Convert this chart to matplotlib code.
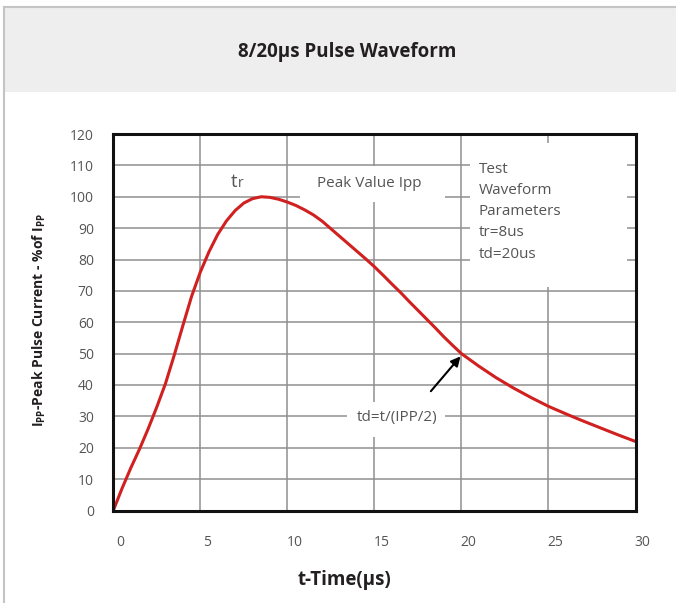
import matplotlib
matplotlib.use("Agg")
import matplotlib.pyplot as plt
import matplotlib.transforms as mtransforms
from matplotlib.patches import Rectangle

plt.rcParams['font.family'] = ['Open Sans', 'DejaVu Sans']
plt.rcParams['mathtext.fontset'] = 'custom'
plt.rcParams['mathtext.rm'] = 'Open Sans:bold'
plt.rcParams['mathtext.bf'] = 'Open Sans:bold'

# 8/20us waveform
time_us = [0, 0.5, 1, 1.5, 2, 2.5, 3, 3.5, 4, 4.5, 5, 5.5, 6, 6.5, 7, 7.5, 8, 8.5,
           9, 9.5, 10, 10.5, 11, 11.5, 12, 12.5, 13, 13.5, 14, 14.5, 15, 15.5, 16,
           16.5, 17, 17.5, 18, 18.5, 19, 19.5, 20, 21, 22, 23, 24, 25, 26, 27, 28,
           29, 30]
current_pct = [0, 7, 13.5, 19.5, 26, 33, 40.5, 49.5, 59, 68.3, 76, 82.5, 88, 92.3,
               95.6, 98, 99.4, 100, 99.8, 99.2, 98.3, 97.2, 95.8, 94.2, 92.2, 89.8,
               87.4, 85, 82.6, 80.2, 77.7, 75, 72.2, 69.5, 66.6, 63.8, 61, 58.2,
               55.3, 52.6, 50, 46, 42.3, 39, 36, 33.2, 30.8, 28.5, 26.3, 24.1, 22]
x_ticks = [0, 5, 10, 15, 20, 25, 30]
y_ticks = list(range(0, 121, 10))
param_lines = ['Test', 'Waveform', 'Parameters', 'tr=8us', 'td=20us']

W, H = 676, 603
fig = plt.figure(figsize=(W / 100, H / 100), dpi=100)

# header band and frame
fig.patches.append(Rectangle((4 / W, 1 - 92 / H), 1, 85 / H, transform=fig.transFigure,
                             facecolor='#eeeeee', edgecolor='none', zorder=0))
fig.lines.append(plt.Line2D([4 / W, 1], [1 - 7 / H, 1 - 7 / H], transform=fig.transFigure,
                            color='#c4c4c4', lw=1.5))
fig.lines.append(plt.Line2D([4 / W, 4 / W], [0, 1 - 7 / H], transform=fig.transFigure,
                            color='#c4c4c4', lw=1.5))
fig.text(347 / W, 1 - 52 / H, '8/20\u03bcs Pulse Waveform', ha='center', va='center',
         fontsize=13.5, fontweight='bold', color='#231f20')

ax = fig.add_axes([113.3 / W, 1 - 510.5 / H, (635.5 - 113.3) / W, (510.5 - 134) / H])
ax.set_xlim(0, 30)
ax.set_ylim(0, 120)
ax.set_xticks(x_ticks)
ax.set_yticks(y_ticks)
ax.set_axisbelow(True)
ax.grid(True, color='#8f8f8f', lw=1.1)
for s in ax.spines.values():
    s.set_linewidth(2.2)
    s.set_color('#111111')
    s.set_zorder(5)
ax.tick_params(length=0, labelsize=10, labelcolor='#555555')
ax.tick_params(axis='y', pad=14)
ax.tick_params(axis='x', pad=18)
offset = mtransforms.ScaledTranslation(7 / 100, 0, fig.dpi_scale_trans)
for lab in ax.get_xticklabels():
    lab.set_transform(lab.get_transform() + offset)

# white boxes that break the grid behind the labels
for (x0, y0, w, h) in [(10.7, 98.3, 8.35, 11.5), (13.4, 23.4, 5.65, 11.2), (20.47, 71.3, 9.07, 45.8)]:
    ax.add_patch(Rectangle((x0, y0), w, h, facecolor='white', edgecolor='none', zorder=1))

ax.plot(time_us, current_pct, color='#d02020', lw=2.2, zorder=3,
        solid_capstyle='round', solid_joinstyle='round')

txt = dict(color='#555555', zorder=4)
ax.text(7.12, 103.0, 't', ha='right', va='baseline', fontsize=13.5, **txt)
ax.text(7.15, 103.0, 'r', ha='left', va='baseline', fontsize=10, **txt)
ax.text(14.7, 104.3, 'Peak Value Ipp', ha='center', va='center', fontsize=11, **txt)
ax.text(16.3, 29.7, 'td=t/(IPP/2)', ha='center', va='center', fontsize=11, **txt)
for i, line in enumerate(param_lines):
    ax.text(21.0, 108.8 - i * 6.78, line, ha='left', va='center', fontsize=11, **txt)

ax.annotate('', xy=(20.05, 49.8), xytext=(18.14, 37.35),
            arrowprops=dict(arrowstyle='-|>', color='black', lw=1.5, mutation_scale=14),
            zorder=4)

fig.text(344 / W, 1 - 580 / H, 't-Time(\u03bcs)', ha='center', va='center',
         fontsize=13.5, fontweight='bold', color='#231f20')
fig.text(39 / W, 1 - 320 / H, r'$\mathrm{I_{PP}}$-Peak Pulse Current - %of $\mathrm{I_{PP}}$',
         ha='center', va='center', rotation=90, fontsize=10, fontweight='bold',
         color='#231f20')

fig.savefig('out.png', dpi=100)
